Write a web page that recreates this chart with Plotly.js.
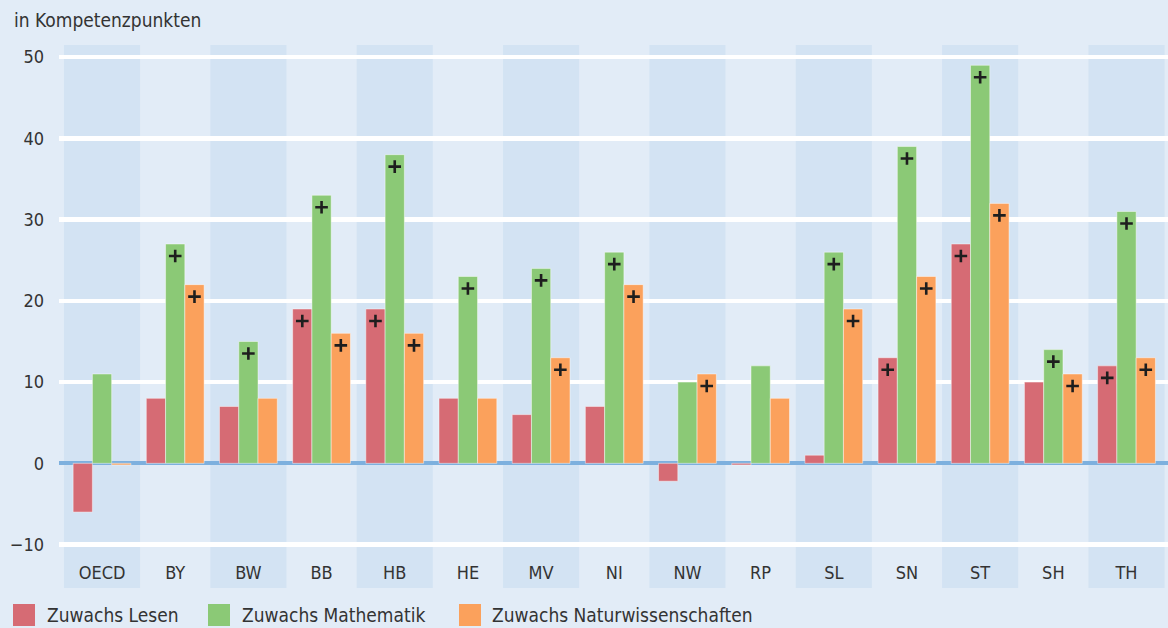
<!DOCTYPE html>
<html>
<head>
<meta charset="utf-8">
<script src="https://cdn.plot.ly/plotly-3.0.1.min.js"></script>
<style>html,body{margin:0;padding:0;background:#e2ecf7;}#chart{width:1168px;height:628px;}</style>
</head>
<body>
<div id="chart"></div>
<script>
// ---- data ----
const categories = ["OECD","BY","BW","BB","HB","HE","MV","NI","NW","RP","SL","SN","ST","SH","TH"];
const lesen      = [-6, 8, 7, 19, 19, 8, 6, 7, -2.2, -0.2, 1, 13, 27, 10, 12];
const mathematik = [11, 27, 15, 33, 38, 23, 24, 26, 10, 12, 26, 39, 49, 14, 31];
const naturwiss  = [-0.2, 22, 8, 16, 16, 8, 13, 22, 11, 8, 19, 23, 32, 11, 13];
const sigLesen      = [0,0,0,1,1,0,0,0,0,0,0,1,1,0,1];
const sigMathematik = [0,1,1,1,1,1,1,1,0,0,1,1,1,1,1];
const sigNaturwiss  = [0,1,0,1,1,0,1,1,1,0,1,1,1,1,1];
const seriesNames = ["Zuwachs Lesen","Zuwachs Mathematik","Zuwachs Naturwissenschaften"];
const yTicks = [-10, 0, 10, 20, 30, 40, 50];
const yTitle = "in Kompetenzpunkten";

// ---- style ----
const colors = ["#d66b74", "#8bc976", "#fba15c"];
const FONT = "'DejaVu Sans Condensed', 'Liberation Sans Narrow', 'DejaVu Sans', sans-serif";
const W = 1168, H = 628;
const M = {l: 59, r: 0, t: 45, b: 68};
const PW = W - M.l - M.r, PH = H - M.t - M.b;
const px2x = p => (p - M.l) / PW;
const px2y = p => (H - M.b - p) / PH;
const BARGAP = 0.21;
const barW = (1 - BARGAP) / 3;
const plusOffsetPx = 12;
const yRange = [-11.9, 51.5];
const unitPx = PH / (yRange[1] - yRange[0]);

const idx = categories.map((c, i) => i);
const allVals = [lesen, mathematik, naturwiss];
const allSig = [sigLesen, sigMathematik, sigNaturwiss];

const traces = allVals.map((vals, k) => ({
  type: 'bar', x: idx, y: vals, name: seriesNames[k],
  marker: {color: colors[k], line: {width: 1, color: 'rgba(255,255,255,0.45)'}},
  hoverinfo: 'x+y', showlegend: false
}));

// significance markers
const px = [], py = [];
allVals.forEach((vals, k) => {
  vals.forEach((v, i) => {
    if (allSig[k][i]) { px.push(i + (k - 1) * barW); py.push(v - plusOffsetPx / unitPx); }
  });
});
traces.push({
  type: 'scatter', mode: 'markers', x: px, y: py, showlegend: false, hoverinfo: 'skip',
  marker: {symbol: 'cross-thin', size: 9, color: '#1e1e1e', line: {width: 2.6, color: '#1e1e1e'}}
});

// background bands
const shapes = [];
categories.forEach((c, i) => {
  if (i % 2 === 0) {
    shapes.push({type: 'rect', layer: 'below', xref: 'x', yref: 'paper',
      x0: i - 0.52, x1: i + 0.52, y0: px2y(588), y1: 1,
      fillcolor: '#d3e3f3', line: {width: 0}});
  }
});

// custom legend
const legendItems = [
  {sq: 13, tx: 45},
  {sq: 208, tx: 240},
  {sq: 459, tx: 490}
];
const annotations = [{
  text: yTitle, xref: 'paper', yref: 'paper', x: px2x(12), y: px2y(20),
  xanchor: 'left', yanchor: 'middle', showarrow: false,
  font: {family: FONT, size: 19, color: '#333333'}
}];
legendItems.forEach((it, k) => {
  shapes.push({type: 'rect', xref: 'paper', yref: 'paper',
    x0: px2x(it.sq), x1: px2x(it.sq + 22), y0: px2y(626), y1: px2y(604),
    fillcolor: colors[k], line: {width: 0}});
  annotations.push({text: seriesNames[k], xref: 'paper', yref: 'paper',
    x: px2x(it.tx), y: px2y(615), xanchor: 'left', yanchor: 'middle', showarrow: false,
    font: {family: FONT, size: 19, color: '#333333'}});
});

const layout = {
  width: W, height: H, margin: M,
  paper_bgcolor: '#e2ecf7', plot_bgcolor: 'rgba(0,0,0,0)',
  barmode: 'group', bargap: BARGAP, bargroupgap: 0,
  showlegend: false,
  font: {family: FONT, size: 18, color: '#333333'},
  xaxis: {
    range: [-0.588, 14.567], tickmode: 'array', tickvals: idx, ticktext: categories,
    showgrid: false, zeroline: false, showline: false, ticks: '',
    ticklabelstandoff: 0, tickfont: {family: FONT, size: 18, color: '#333333'},
    fixedrange: true
  },
  yaxis: {
    range: yRange, tickmode: 'array', tickvals: yTicks,
    showgrid: true, gridcolor: '#ffffff', gridwidth: 4.5,
    zeroline: true, zerolinecolor: '#7db0de', zerolinewidth: 4,
    showline: false, ticks: '', ticklabelstandoff: 14,
    tickfont: {family: FONT, size: 18, color: '#333333'},
    fixedrange: true
  },
  shapes: shapes, annotations: annotations
};

Plotly.newPlot('chart', traces, layout, {displayModeBar: false, staticPlot: true});
</script>
</body>
</html>
